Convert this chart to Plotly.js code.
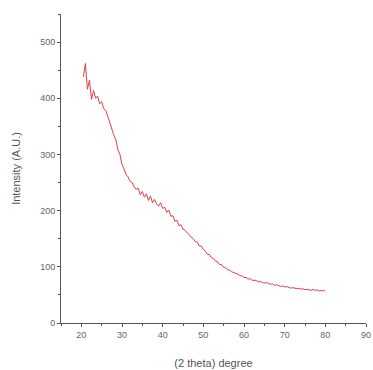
<!DOCTYPE html>
<html>
<head>
<meta charset="utf-8">
<script src="https://cdn.plot.ly/plotly-3.0.1.min.js"></script>
<style>html,body{margin:0;padding:0;background:#fff;}#chart{width:373px;height:370px;}</style>
</head>
<body>
<div id="chart"></div>
<script>
const twoTheta = [20.5,21,21.5,22,22.5,23,23.5,24,24.5,25,25.5,26,26.5,27,27.5,28,28.5,29,29.5,30,
30.5,31,31.5,32,32.5,33,33.5,34,34.5,35,35.5,36,36.5,37,37.5,38,38.5,39,39.5,40,
40.5,41,41.5,42,42.5,43,43.5,44,44.5,45,45.5,46,46.5,47,47.5,48,48.5,49,49.5,50,
50.5,51,51.5,52,52.5,53,53.5,54,54.5,55,55.5,56,56.5,57,57.5,58,58.5,59,59.5,60,
60.5,61,61.5,62,62.5,63,63.5,64,64.5,65,65.5,66,66.5,67,67.5,68,68.5,69,69.5,70,
70.5,71,71.5,72,72.5,73,73.5,74,74.5,75,75.5,76,76.5,77,77.5,78,78.5,79,79.5,80];
const intensity = [438,462,416,432,398,414,400,404,390,394,382,378,368,356,348,334,326,308,300,282,
274,264,260,252,250,242,238,240,228,234,224,230,218,226,214,220,212,208,214,204,
206,197,201,190,191,181,183,173,175,167,165,160,157,153,150,145,144,137,137,131,
128,122,122,116,115,110,109,104,104,99,98,95,94,91,90,88,87,84,84,81,
81,78,79,76,76,76,73,74,72,71,72,70,69,70,67,68,67,65,66,64,
65,64,62,63,62,61,62,60,61,59,60,59,58,60,58,59,57,58,57,58];
const xTickVals = [20,30,40,50,60,70,80,90];
const yTickVals = [0,100,200,300,400,500];

const trace = {
  x: twoTheta, y: intensity, type: 'scatter', mode: 'lines',
  line: {color: 'rgb(226,62,66)', width: 1}, hoverinfo: 'none'
};
const FONT = 'Liberation Sans, Arial, sans-serif';
const axisCommon = {
  showgrid: false, zeroline: false, showline: true, linecolor: '#555', linewidth: 1,
  ticks: 'outside', ticklen: 3, tickwidth: 1, tickcolor: '#555',
  tickfont: {family: FONT, size: 9, color: '#666'},
  mirror: false
};
const layout = {
  width: 373, height: 370,
  margin: {l: 61, r: 7, t: 14, b: 47},
  paper_bgcolor: '#fff', plot_bgcolor: '#fff',
  showlegend: false,
  xaxis: Object.assign({}, axisCommon, {
    range: [15, 90], tickvals: xTickVals, ticktext: xTickVals.map(String),
    minor: {ticks: 'outside', ticklen: 2, dtick: 5, tick0: 15, tickcolor: '#555', showgrid: false},
    title: {text: '(2 theta) degree', standoff: 20, font: {family: FONT, size: 11, color: '#555'}}
  }),
  yaxis: Object.assign({}, axisCommon, {
    range: [0, 550], tickvals: yTickVals, ticktext: yTickVals.map(String),
    minor: {ticks: 'outside', ticklen: 2, dtick: 50, tick0: 0, tickcolor: '#555', showgrid: false},
    title: {text: 'Intensity (A.U.)', standoff: 17, font: {family: FONT, size: 11, color: '#555'}}
  })
};
Plotly.newPlot('chart', [trace], layout, {staticPlot: true, displayModeBar: false});
</script>
</body>
</html>
